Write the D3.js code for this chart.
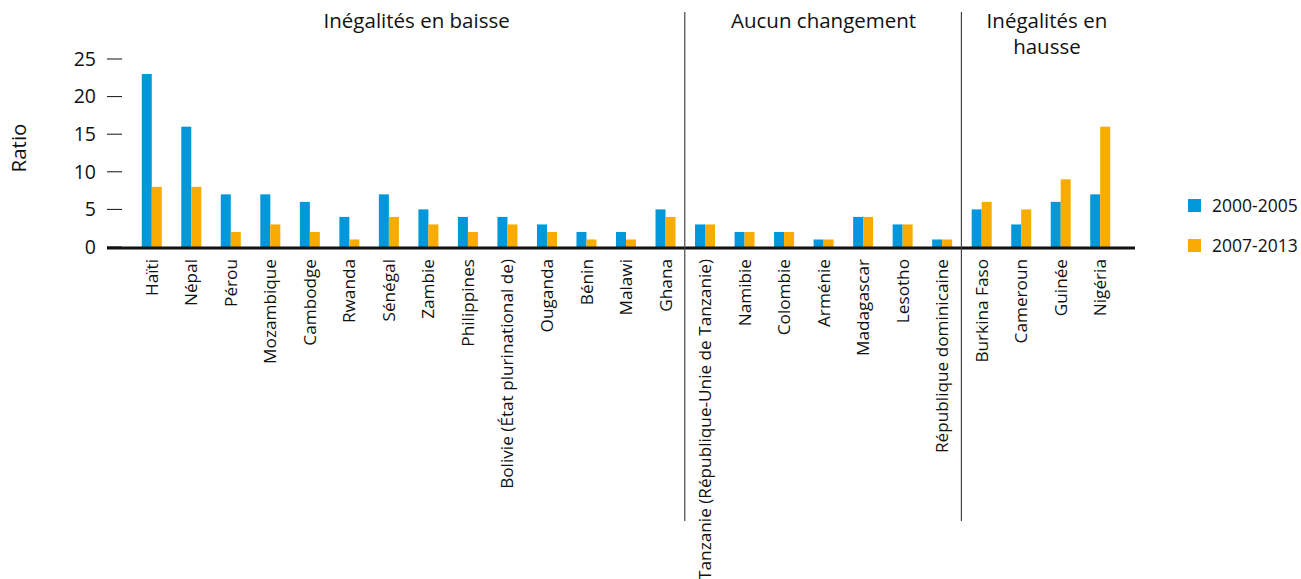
<!DOCTYPE html>
<html>
<head>
<meta charset="utf-8">
<script src="https://d3js.org/d3.v7.min.js"></script>
<style>
  body { margin: 0; background: #fff; }
  text { font-family: "Open Sans", Lato, sans-serif; fill: #111; }
</style>
</head>
<body>
<div id="chart"></div>
<script>
var width = 1301;
var height = 579;

var countries = ["Haïti", "Népal", "Pérou", "Mozambique", "Cambodge", "Rwanda", "Sénégal", "Zambie",
  "Philippines", "Bolivie (État plurinational de)", "Ouganda", "Bénin", "Malawi", "Ghana",
  "Tanzanie (République-Unie de Tanzanie)", "Namibie", "Colombie", "Arménie", "Madagascar", "Lesotho",
  "République dominicaine",
  "Burkina Faso", "Cameroun", "Guinée", "Nigéria"];
var early = [23, 16, 7, 7, 6, 4, 7, 5, 4, 4, 3, 2, 2, 5, 3, 2, 2, 1, 4, 3, 1, 5, 3, 6, 7];
var late = [8, 8, 2, 3, 2, 1, 4, 3, 2, 3, 2, 1, 1, 4, 3, 2, 2, 1, 4, 3, 1, 6, 5, 9, 16];
var seriesNames = ["2000-2005", "2007-2013"];
var colors = ["#0098da", "#f8ab00"];
var groupNames = [["Inégalités en baisse"], ["Aucun changement"], ["Inégalités en", "hausse"]];
var groupSizes = [14, 7, 4];
var yTicks = [0, 5, 10, 15, 20, 25];

var svg = d3.select("#chart").append("svg")
  .attr("width", width)
  .attr("height", height);

var x = d3.scaleBand()
  .domain(countries)
  .range([132, 1120]);

var y = d3.scaleLinear()
  .domain([0, 25])
  .range([247, 59]);

var barW = 10;

// y axis
svg.append("g").selectAll("line")
  .data(yTicks)
  .enter().append("line")
  .attr("x1", 107).attr("x2", 122)
  .attr("y1", function(d) { return y(d); })
  .attr("y2", function(d) { return y(d); })
  .style("stroke", "#111")
  .style("stroke-width", 1);

svg.append("g").selectAll("text")
  .data(yTicks)
  .enter().append("text")
  .attr("x", 96)
  .attr("y", function(d) { return y(d); })
  .attr("dy", "0.35em")
  .attr("text-anchor", "end")
  .style("font-size", "19.5px")
  .text(function(d) { return d; });

svg.append("text")
  .attr("transform", "translate(26,148) rotate(-90)")
  .attr("text-anchor", "middle")
  .style("font-size", "20.5px")
  .text("Ratio");

// bars
var data = countries.map(function(c, i) { return { name: c, a: early[i], b: late[i] }; });

var bars = svg.append("g");
bars.selectAll(".a")
  .data(data)
  .enter().append("rect")
  .attr("x", function(d) { return x(d.name) + x.bandwidth() / 2 - barW; })
  .attr("y", function(d) { return y(d.a); })
  .attr("width", barW)
  .attr("height", function(d) { return y(0) - y(d.a); })
  .attr("fill", colors[0]);
bars.selectAll(".b")
  .data(data)
  .enter().append("rect")
  .attr("x", function(d) { return x(d.name) + x.bandwidth() / 2; })
  .attr("y", function(d) { return y(d.b); })
  .attr("width", barW)
  .attr("height", function(d) { return y(0) - y(d.b); })
  .attr("fill", colors[1]);

// baseline
svg.append("line")
  .attr("x1", 107).attr("x2", 1135)
  .attr("y1", y(0) + 1).attr("y2", y(0) + 1)
  .style("stroke", "#111")
  .style("stroke-width", 3);

// category labels
svg.append("g").selectAll("text")
  .data(countries)
  .enter().append("text")
  .attr("transform", function(d) {
    return "translate(" + (x(d) + x.bandwidth() / 2) + ",259) rotate(-90)";
  })
  .attr("dy", "0.35em")
  .attr("text-anchor", "end")
  .style("font-size", "17.2px")
  .text(function(d) { return d; });

// group dividers and headers
var start = 0;
var groups = groupSizes.map(function(n, i) {
  var g = { i: i, first: countries[start], last: countries[start + n - 1] };
  start += n;
  return g;
});

svg.append("g").selectAll("line")
  .data(groups.slice(1))
  .enter().append("line")
  .attr("x1", function(d) { return x(d.first) - 0.5; })
  .attr("x2", function(d) { return x(d.first) - 0.5; })
  .attr("y1", 12).attr("y2", 521)
  .style("stroke", "#444")
  .style("stroke-width", 1.2);

var headerDx = [8, 0, 6];
groups.forEach(function(g) {
  var cx = (x(g.first) + x(g.last) + x.bandwidth()) / 2 + headerDx[g.i];
  var t = svg.append("text")
    .attr("x", cx)
    .attr("y", 28)
    .attr("text-anchor", "middle")
    .style("font-size", "20.5px");
  groupNames[g.i].forEach(function(line, k) {
    t.append("tspan").attr("x", cx).attr("dy", k === 0 ? 0 : 26).text(line);
  });
});

// legend
var legend = svg.append("g").selectAll("g")
  .data(seriesNames)
  .enter().append("g")
  .attr("transform", function(d, i) { return "translate(1188," + (199 + i * 40) + ")"; });
legend.append("rect")
  .attr("width", 13).attr("height", 13)
  .attr("fill", function(d, i) { return colors[i]; });
legend.append("text")
  .attr("x", 24).attr("y", 7)
  .attr("dy", "0.35em")
  .style("font-size", "17.5px")
  .text(function(d) { return d; });
</script>
</body>
</html>
